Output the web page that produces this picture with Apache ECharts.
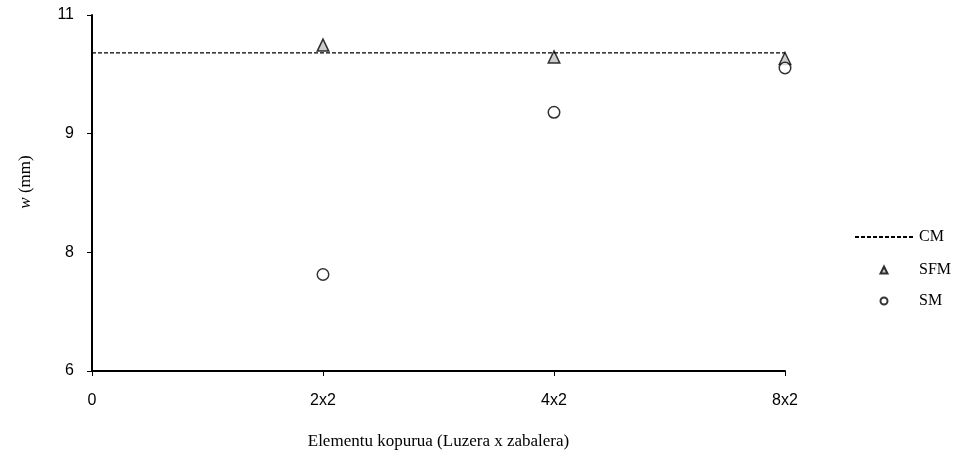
<!DOCTYPE html>
<html><head><meta charset="utf-8">
<script src="https://cdn.jsdelivr.net/npm/echarts@6/dist/echarts.min.js"></script>
<style>html,body{margin:0;padding:0;background:#fff}#c{width:955px;height:455px}</style>
</head><body><div id="c"></div>
<script>
// Mesh sizes (x axis positions 0..3) and deflection results
const xLabels = ['0', '2x2', '4x2', '8x2'];
const cmValue = 10.02;
const sfmValues = [10.12, 9.97, 9.95];
const smValues = [7.22, 9.27, 9.83];
const yTickLabels = ['6', '8', '9', '11'];

const chart = echarts.init(document.getElementById('c'), null, {renderer: 'canvas'});
const txt = {fontFamily: 'Liberation Sans, Arial', fontSize: 16, color: '#000'};
const serif = 'Liberation Serif, Times New Roman';

chart.setOption({
  animation: false,
  grid: {left: 92, right: 170, top: 15, bottom: 81, containLabel: false},
  xAxis: {
    type: 'value', min: 0, max: 3, interval: 1,
    axisLine: {lineStyle: {color: '#000', width: 2}},
    axisTick: {show: true, inside: false, length: 5, lineStyle: {color: '#000', width: 1}},
    splitLine: {show: false},
    axisLabel: Object.assign({margin: 22, formatter: v => xLabels[v]}, txt),
    name: 'Elementu kopurua (Luzera x zabalera)',
    nameLocation: 'middle', nameGap: 62,
    nameTextStyle: {fontFamily: serif, fontSize: 17, color: '#000'}
  },
  yAxis: {
    type: 'value', min: 6, max: 10.5, interval: 1.5,
    axisLine: {show: true, lineStyle: {color: '#000', width: 2}},
    axisTick: {show: true, inside: false, length: 5, lineStyle: {color: '#000', width: 1}},
    splitLine: {show: false},
    axisLabel: Object.assign({margin: 18, formatter: v => yTickLabels[Math.round((v - 6) / 1.5)]}, txt),
    name: '{i|w} (mm)',
    nameLocation: 'middle', nameGap: 58, nameRotate: 90,
    nameTextStyle: {fontFamily: serif, fontSize: 17, color: '#000', padding: [0, 0, 0, 22],
      rich: {i: {fontFamily: serif, fontSize: 17, fontStyle: 'italic', color: '#000'}}}
  },
  legend: [
    {
      orient: 'vertical', left: 849, top: 224,
      itemWidth: 58, itemHeight: 14,
      textStyle: {fontFamily: serif, fontSize: 16, color: '#000', padding: [0, 0, 0, 1]},
      data: [{name: 'CM', itemStyle: {opacity: 0}}]
    },
    {
      orient: 'vertical', left: 874.5, top: 257, itemGap: 15,
      itemWidth: 7, itemHeight: 7,
      textStyle: {fontFamily: serif, fontSize: 16, color: '#000', padding: [0, 0, 0, 26.5]},
      data: ['SFM', 'SM']
    }
  ],
  series: [
    {
      name: 'CM', type: 'line', symbol: 'none',
      data: [[0, cmValue], [3, cmValue]],
      itemStyle: {color: '#000'},
      lineStyle: {color: '#000', width: 1.2, type: [4, 2]}
    },
    {
      name: 'SFM', type: 'scatter', symbol: 'triangle', symbolSize: [11.5, 12],
      data: sfmValues.map((v, i) => [i + 1, v]),
      itemStyle: {color: '#c0c0c0', borderColor: '#000', borderWidth: 1.5}
    },
    {
      name: 'SM', type: 'scatter', symbol: 'circle', symbolSize: 11.5,
      data: smValues.map((v, i) => [i + 1, v]),
      itemStyle: {color: '#fff', borderColor: '#000', borderWidth: 1.5}
    }
  ]
});
</script></body></html>
